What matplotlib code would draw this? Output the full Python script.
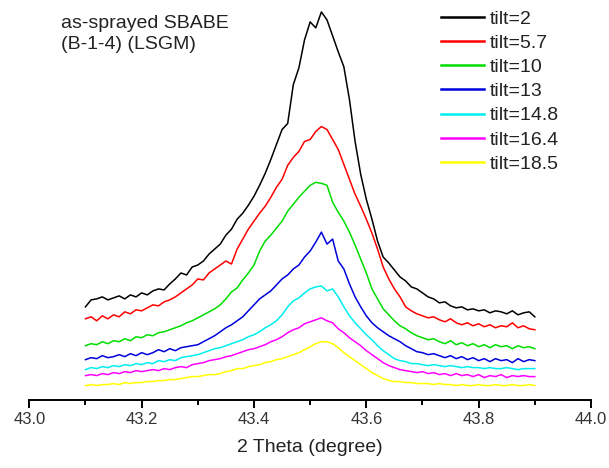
import numpy as np
import matplotlib
matplotlib.use("Agg")
import matplotlib.pyplot as plt

plt.rcParams['font.family'] = ['Liberation Sans', 'DejaVu Sans']

# 2 theta grid of the scans (degree)
two_theta = np.round(np.arange(43.10, 43.905, 0.01), 2)

# intensities (a.u., offset as in the original plot)
tilt_2 = [92, 99, 100, 102, 99, 101, 103, 100, 104, 102,
          106, 104, 108, 110, 109, 115, 120, 126, 124, 132,
          134, 138, 145, 150, 155, 164, 170, 180, 186, 194,
          203, 214, 226, 240, 255, 270, 276, 315, 332, 360,
          378, 372, 388, 380, 364, 348, 333, 300, 258, 225,
          200, 180, 158, 142, 136, 129, 122, 118, 112, 110,
          106, 102, 100, 96, 97, 93, 91, 92, 89, 90,
          88, 89, 86, 88, 87, 85, 88, 84, 86, 87,
          82]
tilt_5_7 = [80, 82, 78, 83, 80, 84, 82, 87, 85, 89,
            88, 91, 94, 93, 97, 99, 102, 106, 110, 114,
            120, 119, 126, 130, 134, 138, 135, 150, 160, 170,
            178, 186, 193, 202, 212, 220, 234, 242, 248, 258,
            260, 268, 273, 270, 260, 250, 235, 220, 205, 193,
            180, 166, 150, 132, 120, 110, 102, 92, 88, 85,
            83, 81, 82, 79, 77, 80, 76, 74, 76, 73,
            75, 72, 74, 71, 73, 72, 76, 71, 73, 70,
            69]
tilt_10 = [53, 55, 54, 57, 55, 58, 57, 60, 58, 62,
           61, 64, 63, 66, 67, 69, 71, 73, 76, 78,
           81, 84, 87, 90, 94, 100, 107, 111, 119, 126,
           134, 148, 158, 164, 171, 178, 188, 195, 202, 208,
           214, 217, 216, 214, 197, 187, 178, 167, 154, 140,
           126, 110, 100, 90, 84, 78, 73, 70, 66, 63,
           61, 59, 60, 57, 55, 58, 54, 56, 53, 55,
           52, 54, 51, 54, 52, 53, 50, 53, 51, 52,
           50]
tilt_13 = [39, 41, 40, 43, 41, 42, 44, 42, 45, 43,
           46, 44, 46, 49, 47, 50, 48, 51, 52, 53,
           54, 57, 60, 63, 67, 71, 74, 78, 82, 88,
           94, 100, 104, 108, 114, 120, 124, 130, 134, 142,
           148, 157, 167, 155, 160, 138, 130, 115, 102, 92,
           83, 76, 71, 67, 63, 60, 57, 53, 50, 47,
           46, 44, 45, 43, 41, 43, 40, 42, 39, 41,
           38, 40, 37, 40, 38, 39, 36, 40, 37, 39,
           38]
tilt_14_8 = [29, 31, 30, 32, 31, 33, 32, 34, 33, 35,
             34, 36, 35, 38, 37, 39, 38, 41, 42, 43,
             44, 46, 48, 50, 51, 53, 55, 57, 59, 62,
             64, 67, 71, 74, 78, 84, 92, 98, 101, 106,
             110, 112, 113, 108, 110, 102, 92, 83, 76, 70,
             64, 59, 53, 48, 44, 40, 38, 37, 35, 35,
             34, 33, 34, 33, 32, 33, 32, 31, 32, 31,
             31, 30, 31, 30, 30, 31, 30, 29, 30, 30,
             30]
tilt_16_4 = [23, 24, 23, 25, 24, 26, 25, 27, 26, 28,
             27, 28, 29, 28, 30, 29, 31, 32, 31, 34,
             35, 36, 38, 39, 40, 42, 43, 45, 47, 49,
             50, 52, 54, 57, 59, 62, 66, 69, 71, 75,
             77, 79, 81, 78, 76, 70, 66, 61, 57, 53,
             48, 44, 40, 36, 33, 31, 29, 28, 27, 26,
             27, 25, 26, 24, 25, 23, 25, 23, 24, 22,
             24, 21, 23, 22, 24, 21, 23, 22, 23, 22,
             22]
tilt_18_5 = [13, 14, 13, 14, 14, 15, 14, 16, 15, 16,
             16, 17, 17, 18, 18, 19, 19, 20, 21, 22,
             22, 23, 24, 24, 25, 27, 28, 30, 30, 32,
             33, 34, 36, 37, 39, 40, 42, 44, 46, 49,
             52, 55, 57, 57, 55, 51, 46, 42, 38, 34,
             30, 26, 23, 20, 18, 17, 17, 16, 16, 15,
             15, 15, 14, 15, 14, 14, 13, 14, 13, 13,
             14, 13, 13, 14, 13, 13, 14, 13, 13, 14,
             13]

labels = ["tilt=2", "tilt=5.7", "tilt=10", "tilt=13",
          "tilt=14.8", "tilt=16.4", "tilt=18.5"]
colors = ["black", "#ff0000", "#00dd00", "#0000dd",
          "#00eeee", "#ff00ff", "#ffff00"]
series = [tilt_2, tilt_5_7, tilt_10, tilt_13, tilt_14_8, tilt_16_4, tilt_18_5]

W, H = 609, 468
fig = plt.figure(figsize=(W / 100, H / 100), dpi=100)
ax = fig.add_axes([29.3 / W, 1 - 399.5 / H, (591 - 29.3) / W, 399.5 / H])

for y, lab, c in zip(series, labels, colors):
  ax.plot(two_theta, y, color=c, lw=1.1, label=lab)

ax.set_xlim(43.0, 44.0)
ax.set_ylim(-1, 400)
ax.set_xticks(np.arange(43.0, 44.01, 0.2))
ax.set_xticks(np.arange(43.1, 44.0, 0.2), minor=True)
ax.xaxis.set_major_formatter(matplotlib.ticker.FormatStrFormatter('%.1f'))
ax.set_yticks([])
for s in ["left", "right", "top"]:
  ax.spines[s].set_visible(False)
ax.spines["bottom"].set_linewidth(1.4)
ax.tick_params(axis='x', which='major', direction='out', length=6, width=1.4,
               pad=3, labelsize=12, labelcolor='#333333')
ax.tick_params(axis='x', which='minor', direction='out', length=3.5, width=1.4)
ax.set_xlabel("2 Theta (degree)", fontsize=14, labelpad=9, color='#222222')

fig.text(61 / W, 1 - 15 / H, "as-sprayed SBABE\n(B-1-4) (LSGM)",
         fontsize=14, va='top', ha='left', linespacing=1.3, color='#222222')

leg = ax.legend(loc='upper left', bbox_to_anchor=(441 / W, 1 - 10 / H),
                bbox_transform=fig.transFigure, frameon=False, fontsize=14,
                handlelength=2.2, handletextpad=0.3, labelspacing=0.34,
                borderpad=0, borderaxespad=0)
for line in leg.get_lines():
  line.set_linewidth(1.8)
for t in leg.get_texts():
  t.set_color('#222222')

fig.savefig("out.png", dpi=100)
